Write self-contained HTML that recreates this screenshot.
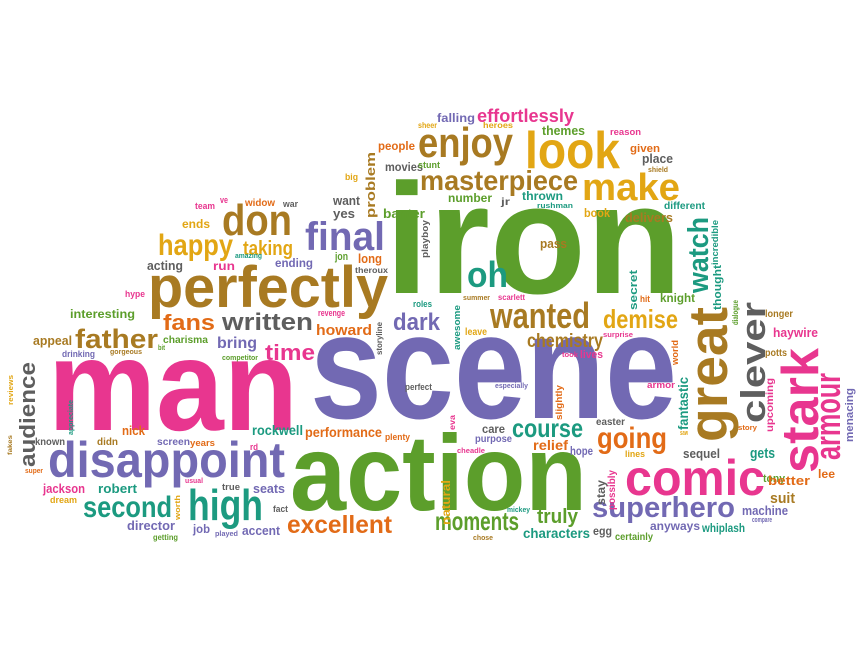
<!DOCTYPE html>
<html><head><meta charset="utf-8"><style>
html,body{margin:0;padding:0;background:#fff;}
svg{display:block;}
text{font-family:"Liberation Sans",sans-serif;font-weight:bold;}
</style></head><body>
<svg id="cloud" width="864" height="648" viewBox="0 0 864 648"></svg>
<script>
// words (groups of ten, same order in every array)
const words = [
"man","scene","iron","action","perfectly","disappoint","great","stark","comic","high",
"clever","watch","look","enjoy","make","masterpiece","don","final","happy","taking",
"oh","wanted","demise","fans","written","dark","howard","father","time","chemistry",
"audience","armour","course","going","second","excellent","moments","superhero","truly","bring",
"effortlessly","problem","people","movies","big","team","ve","widow","war","want",
"yes","banter","ends","amazing","acting","run","ending","jon","long","theroux",
"playboy","hype","roles","falling","heroes","sheer","themes","reason","given","place",
"shield","stunt","number","jr","thrown","rushman","book","delivers","different","incredible",
"thought","pass","scarlett","summer","secret","hit","knight","interesting","revenge","storyline",
"appeal","charisma","bit","drinking","gorgeous","competitor","reviews","appreciate","fakes","nick",
"known","didn","screen","years","rockwell","performance","plenty","rd","super","jackson",
"robert","dream","usual","true","seats","worth","fact","director","getting","job",
"played","accent","awesome","leave","surprise","took","lives","world","especially","slightly",
"armor","fantastic","longer","dialogue","haywire","potts","upcoming","story","menacing","care",
"purpose","easter","cheadle","relief","hope","saw","lines","sequel","gets","tony",
"natural","stay","possibly","better","lee","suit","mickey","machine","compare","characters",
"egg","certainly","anyways","whiplash","chose","perfect","eva"];
const colourKeys = [
"P","U","G","G","B","U","B","P","P","T",
"Y","T","D","B","D","B","B","U","D","D",
"T","B","D","O","Y","U","O","B","P","B",
"Y","P","T","O","T","O","G","U","G","U",
"P","B","O","Y","D","P","P","O","Y","Y",
"Y","G","D","T","Y","P","U","G","O","Y",
"Y","P","T","U","D","D","G","P","O","Y",
"B","G","G","Y","T","T","D","B","T","T",
"T","B","P","B","T","O","G","G","P","Y",
"B","G","G","U","B","G","D","T","B","O",
"Y","B","U","O","T","O","O","P","O","P",
"T","D","P","Y","U","D","Y","U","G","U",
"U","U","T","D","P","P","P","O","U","O",
"P","T","B","G","P","B","P","O","U","Y",
"U","Y","P","O","U","D","D","Y","T","G",
"D","Y","P","O","O","B","T","U","U","T",
"Y","G","U","T","B","Y","P"];
const weights = [
130,150,157,108,58,50,55,52,50,44,
34,29,52,42,38,28,44,40,30,20,
36,36,26,22,24,24,15,27,22,19,
22,36,26,30,30,25,26,29,20,16,
18,13,12,12,9,9,9,10,9,13,
13,13,12,7,13,12,12,11,13,8,
9,9,9,12,8,8,13,9,11,13,
7,9,12,10,12,7,12,13,10,9,
11,13,8,7,11,9,12,12,9,8,
13,10,7,9,7,7,7,7,6,13,
10,10,10,9,14,14,9,9,7,13,
13,9,7,9,13,7,9,13,8,12,
7,13,9,10,7,7,11,9,7,9,
9,14,10,8,13,10,10,7,11,12,
10,10,7,14,12,7,9,13,15,11,
12,12,10,13,12,15,7,13,7,14,
12,10,12,12,7,9,8];
// layout: [x, baseline y, length, vertical]
const layout = [
[48,430,250,0],[310,418,367,0],[385,293,297,0],[290,510,297,0],[148,307,240,0],[48,477,237,0],[727,442,135,1],[818,473,125,1],[625,495,140,0],[188,520,75,0],
[765,423,121,1],[708,293,76,1],[525,168,95,0],[418,157,95,0],[582,200,98,0],[420,190,158,0],[222,235,70,0],[305,250,80,0],[158,255,75,0],[243,255,50,0],
[467,287,41,0],[490,328,100,0],[603,328,75,0],[163,330,52,0],[222,330,91,0],[393,330,47,0],[316,335,56,0],[75,348,83,0],[265,360,50,0],[527,347,76,0],
[35,467,105,1],[840,460,87,1],[512,437,71,0],[597,448,70,0],[83,517,89,0],[287,533,105,0],[435,530,84,0],[592,517,143,0],[537,523,41,0],[217,348,40,0],
[477,122,97,0],[375,218,66,1],[378,150,37,0],[385,171,38,0],[345,180,13,0],[195,209,20,0],[220,203,8,0],[245,206,30,0],[283,207,15,0],[333,205,27,0],
[333,218,22,0],[383,218,42,0],[182,228,28,0],[235,258,27,0],[147,270,36,0],[213,270,22,0],[275,267,38,0],[335,260,13,0],[358,263,24,0],[355,273,33,0],
[428,258,38,1],[125,297,20,0],[413,307,19,0],[437,122,38,0],[483,128,30,0],[418,128,19,0],[542,135,43,0],[610,135,31,0],[630,152,30,0],[642,163,31,0],
[648,172,20,0],[418,168,22,0],[448,202,44,0],[501,205,9,0],[522,200,41,0],[537,208,36,0],[584,217,26,0],[625,222,48,0],[664,209,41,0],[718,265,45,1],
[721,310,45,1],[540,248,27,0],[498,300,27,0],[463,300,27,0],[637,310,40,1],[640,302,10,0],[660,302,35,0],[70,318,65,0],[318,316,27,0],[382,355,33,1],
[33,345,39,0],[163,343,45,0],[158,350,7,0],[62,357,33,0],[110,354,32,0],[222,360,36,0],[13,405,30,1],[73,435,35,1],[12,455,20,1],[122,435,23,0],
[35,445,30,0],[97,445,21,0],[157,445,33,0],[190,446,25,0],[252,435,51,0],[305,437,77,0],[385,440,25,0],[250,450,8,0],[25,473,18,0],[43,493,42,0],
[98,493,39,0],[50,503,27,0],[185,483,18,0],[222,490,18,0],[253,493,32,0],[180,520,25,1],[273,512,15,0],[127,530,48,0],[153,540,25,0],[193,533,17,0],
[215,536,23,0],[242,535,38,0],[460,350,45,1],[465,335,22,0],[603,337,30,0],[562,357,16,0],[580,358,23,0],[678,365,25,1],[495,388,33,0],[562,420,35,1],
[647,388,28,0],[688,430,53,1],[765,317,28,0],[738,325,25,1],[773,337,45,0],[765,356,22,0],[773,432,54,1],[738,430,19,0],[853,442,54,1],[482,433,23,0],
[475,442,37,0],[596,425,29,0],[457,453,28,0],[533,450,35,0],[570,455,23,0],[680,435,8,0],[625,457,20,0],[683,458,37,0],[750,458,25,0],[763,482,22,0],
[450,525,45,1],[605,505,25,1],[615,510,40,1],[768,485,42,0],[818,478,17,0],[770,503,25,0],[507,512,23,0],[742,515,46,0],[752,522,20,0],[523,538,67,0],
[593,535,19,0],[615,540,38,0],[650,530,50,0],[702,532,43,0],[473,540,20,0],[405,390,27,0],[455,430,15,1]];
const palette = {P:"#e8368f",U:"#7269b3",G:"#5c9e2b",B:"#a87a22",D:"#e2a614",O:"#e26b17",T:"#1c9a80",Y:"#5e5e5e"};
const svg = document.getElementById('cloud');
const NS = 'http://www.w3.org/2000/svg';
for (let i = 0; i < words.length; i++) {
  const L = layout[i];
  const t = document.createElementNS(NS, 'text');
  t.setAttribute('x', L[0]);
  t.setAttribute('y', L[1]);
  if (L[3] === 1) t.setAttribute('transform', 'rotate(-90 ' + L[0] + ' ' + L[1] + ')');
  t.setAttribute('font-size', weights[i]);
  t.setAttribute('fill', palette[colourKeys[i]]);
  t.setAttribute('textLength', L[2]);
  t.setAttribute('lengthAdjust', 'spacingAndGlyphs');
  t.textContent = words[i];
  
  
  svg.appendChild(t);
}
</script>
</body></html>
